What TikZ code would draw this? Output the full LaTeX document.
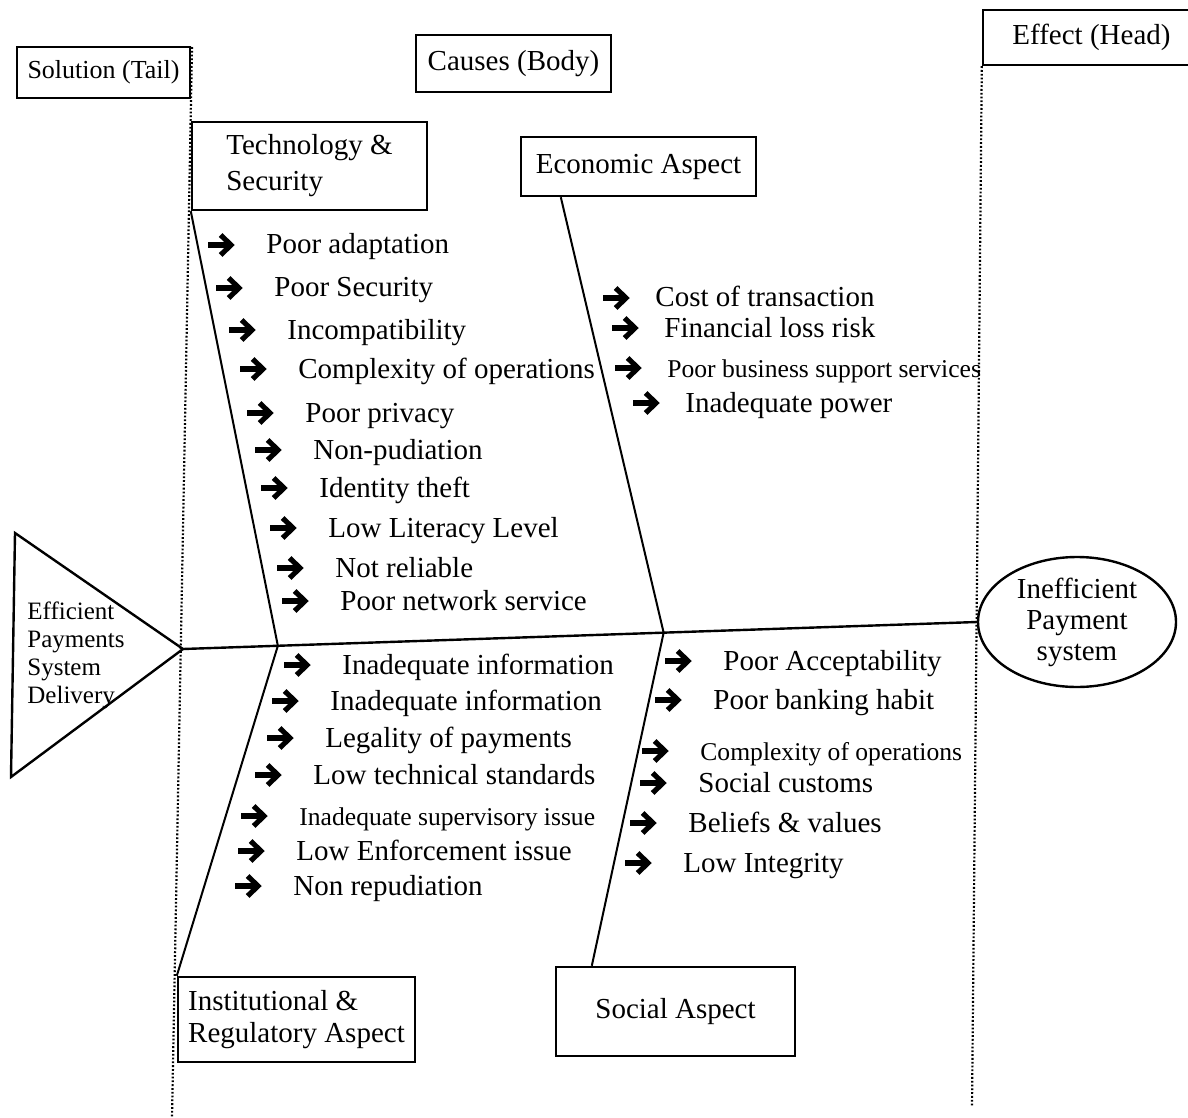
\documentclass[tikz,border=0pt]{standalone}
\usepackage{fontspec}
\setmainfont{Liberation Serif}
\usetikzlibrary{shapes.geometric,calc}

\tikzset{
  boxnode/.style={draw,line width=1.2pt,inner sep=0pt,font=\fontsize{14.5}{18}\selectfont},
  item/.style={anchor=west,inner sep=0pt,text height=0.8em,text depth=0.1em,font=\fontsize{14.5}{17}\selectfont},
  smallitem/.style={item,font=\fontsize{12.8}{15}\selectfont},
  bone/.style={line width=1pt},
  divider/.style={line width=1.1pt,dash pattern=on 0.9pt off 1pt},
  barrow/.pic={
    \draw[line width=2.6pt] (0pt,0pt) -- (11pt,0pt);
    \draw[line width=2.6pt] (6.3pt,-5pt) -- (11.5pt,0pt) -- (6.3pt,5pt);
  }
}

\begin{document}
\begin{tikzpicture}[x=0.5pt,y=-0.5pt]
\useasboundingbox (0,0) rectangle (1188,1118);

% headers
\node[boxnode,minimum width=86.5pt,minimum height=25.5pt,font=\fontsize{13}{16}\selectfont] (sol) at (103.5,72.5) {Solution (Tail)};
\node[boxnode,minimum width=97.5pt,minimum height=28.5pt] (body) at (513.5,63.5) {Causes (Body)};
\node[boxnode,minimum width=108.5pt,minimum height=27.5pt] (head) at (1091.5,37.5) {Effect (Head)};

% dividers
\draw[divider] (192,47) -- (172,1118);
\draw[divider] (head.south west) -- (972,1107);

% cause boxes
\node[boxnode,minimum width=117.5pt,minimum height=44pt,align=left] (tech) at (309.5,166) {Technology \&\\Security};
\node[boxnode,minimum width=117.5pt,minimum height=29.5pt] (econ) at (638.5,166.5) {Economic Aspect};
\node[boxnode,minimum width=118.5pt,minimum height=42.5pt,align=left,font=\fontsize{14.5}{16}\selectfont] (inst) at (296.5,1019.5) {Institutional \&\\Regulatory Aspect};
\node[boxnode,minimum width=119.5pt,minimum height=44.5pt] (soc) at (675.5,1011.5) {Social Aspect};

% tail and head
\draw[line width=1.2pt] (15,533) -- (183,649) coordinate (tip) -- (11,777) -- cycle;
\node[anchor=west,align=left,inner sep=0pt,font=\fontsize{12.5}{14}\selectfont] (tail) at (27,655) {Efficient\\Payments\\System\\Delivery};
\node[draw,ellipse,line width=1.2pt,minimum width=99pt,minimum height=65pt,inner sep=0pt,align=center,font=\fontsize{14.5}{15.5}\selectfont] (eff) at (1077,622) {Inefficient\\Payment\\system};

% spine and bones
\draw[line width=1.2pt] (tip) -- (eff.west);
\coordinate (j1) at ($(tip)!0.1195!(eff.west)$);
\coordinate (j2) at ($(tip)!0.6055!(eff.west)$);
\draw[bone] (tech.south west) -- (j1) -- (inst.north west);
\draw[bone] ([xshift=20.5pt]econ.south west) -- (j2) -- ([xshift=18.5pt]soc.north west);

% technology & security
\foreach [count=\i] \tx/\ty/\sty/\txt in {
  266/247/item/Poor adaptation, 274/290/item/Poor Security,
  287/332/item/Incompatibility, 298/371/item/Complexity of operations,
  305/415/item/Poor privacy, 313/452/item/Non-pudiation,
  319/490/item/Identity theft, 328/530/item/Low Literacy Level,
  335/570/item/Not reliable, 340/603/item/Poor network service} {
  \node[\sty] (ts\i) at (\tx,\ty) {\txt};
  \pic at ([xshift=-29pt,yshift=1pt]ts\i.west) {barrow};
}

% economic aspect
\foreach [count=\i] \tx/\ty/\sty/\txt in {
  655/300/item/Cost of transaction, 664/330/item/Financial loss risk,
  667/370/smallitem/Poor business support services, 685/405/item/Inadequate power} {
  \node[\sty] (ea\i) at (\tx,\ty) {\txt};
  \pic at ([xshift=-26pt,yshift=1pt]ea\i.west) {barrow};
}

% institutional & regulatory aspect
\foreach [count=\i] \tx/\ty/\sty/\txt in {
  342/667/item/Inadequate information, 330/703/item/Inadequate information,
  325/740/item/Legality of payments, 313/777/item/Low technical standards,
  299/818/smallitem/Inadequate supervisory issue, 296/853/item/Low Enforcement issue,
  293/888/item/Non repudiation} {
  \node[\sty] (ir\i) at (\tx,\ty) {\txt};
  \pic at ([xshift=-29pt,yshift=1pt]ir\i.west) {barrow};
}

% social aspect
\foreach [count=\i] \tx/\ty/\sty/\txt in {
  723/663/item/Poor Acceptability, 713/702/item/Poor banking habit,
  700/753/smallitem/Complexity of operations, 698/785/item/Social customs,
  688/825/item/Beliefs \& values, 683/865/item/Low Integrity} {
  \node[\sty] (sa\i) at (\tx,\ty) {\txt};
  \pic at ([xshift=-29pt,yshift=1pt]sa\i.west) {barrow};
}
\end{tikzpicture}
\end{document}
